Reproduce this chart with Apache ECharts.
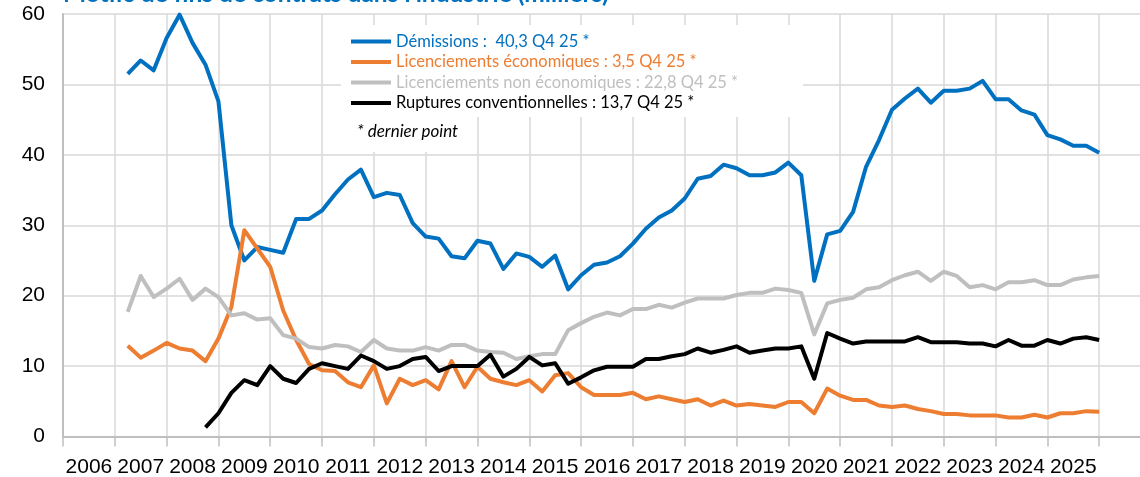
<!DOCTYPE html>
<html>
<head>
<meta charset="utf-8">
<script src="https://cdn.jsdelivr.net/npm/echarts@6/dist/echarts.min.js"></script>
<style>
  html, body { margin: 0; padding: 0; background: #fff; }
  #chart { width: 1140px; height: 477px; }
</style>
</head>
<body>
<div id="chart"></div>
<script>
// Motifs de fins de contrats dans l'industrie (milliers)
// données trimestrielles, de 2007T1 à 2025T4 (un point par trimestre, placé en fin de trimestre)

const annees = ['2006', '2007', '2008', '2009', '2010', '2011', '2012', '2013', '2014', '2015',
    '2016', '2017', '2018', '2019', '2020', '2021', '2022', '2023', '2024', '2025', ''];
const anneeDebut = 2007;

const demissions = [
    51.5, 53.4, 52.0, 56.6,   // 2007
    59.9, 55.9, 52.8, 47.6,   // 2008
    30.0, 25.0, 26.9, 26.5,   // 2009
    26.1, 30.9, 30.9, 32.1,   // 2010
    34.4, 36.5, 37.9, 34.0,   // 2011
    34.6, 34.3, 30.3, 28.4,   // 2012
    28.1, 25.6, 25.3, 27.8,   // 2013
    27.4, 23.8, 26.0, 25.5,   // 2014
    24.1, 25.7, 20.9, 22.9,   // 2015
    24.4, 24.7, 25.6, 27.4,   // 2016
    29.5, 31.1, 32.1, 33.8,   // 2017
    36.6, 37.0, 38.6, 38.1,   // 2018
    37.1, 37.1, 37.5, 38.9,   // 2019
    37.1, 22.1, 28.7, 29.2,   // 2020
    31.9, 38.3, 42.1, 46.4,   // 2021
    48.0, 49.4, 47.4, 49.1,   // 2022
    49.1, 49.4, 50.5, 47.9,   // 2023
    47.9, 46.3, 45.7, 42.8,   // 2024
    42.2, 41.3, 41.3, 40.3,   // 2025
];

const licEco = [
    12.9, 11.2, 12.2, 13.3,
    12.5, 12.2, 10.7, 13.9,
    18.4, 29.3, 26.7, 24.1,
    17.9, 13.7, 10.3, 9.4,
    9.3, 7.7, 7.0, 10.1,
    4.7, 8.2, 7.3, 8.0,
    6.7, 10.7, 7.0, 9.9,
    8.2, 7.7, 7.3, 8.0,
    6.4, 8.7, 9.0, 7.0,
    5.9, 5.9, 5.9, 6.2,
    5.3, 5.7, 5.3, 4.9,
    5.3, 4.4, 5.1, 4.4,
    4.6, 4.4, 4.2, 4.9,
    4.9, 3.3, 6.8, 5.8,
    5.2, 5.2, 4.4, 4.2,
    4.4, 3.9, 3.6, 3.2,
    3.2, 3.0, 3.0, 3.0,
    2.7, 2.7, 3.1, 2.7,
    3.3, 3.3, 3.6, 3.5,
];

const licNonEco = [
    17.7, 22.8, 19.8, 21.0,
    22.4, 19.4, 21.0, 19.8,
    17.2, 17.5, 16.6, 16.8,
    14.4, 13.9, 12.7, 12.5,
    13.0, 12.8, 12.0, 13.7,
    12.5, 12.2, 12.2, 12.7,
    12.2, 13.0, 13.0, 12.2,
    12.0, 11.9, 11.0, 11.4,
    11.7, 11.7, 15.1, 16.1,
    17.0, 17.6, 17.2, 18.1,
    18.1, 18.7, 18.3, 19.0,
    19.6, 19.6, 19.6, 20.1,
    20.4, 20.4, 21.0, 20.8,
    20.4, 14.5, 18.9, 19.4,
    19.7, 20.9, 21.2, 22.2,
    22.9, 23.4, 22.1, 23.4,
    22.8, 21.2, 21.5, 20.9,
    21.9, 21.9, 22.2, 21.5,
    21.5, 22.3, 22.6, 22.8,
];

// ruptures conventionnelles : série démarrant en 2008T3
const ruptures = [
    null, null, null, null,
    null, null, 1.3, 3.3,
    6.2, 8.0, 7.3, 10.0,
    8.2, 7.6, 9.6, 10.4,
    10.0, 9.6, 11.5, 10.7,
    9.6, 10.0, 11.0, 11.3,
    9.3, 10.0, 10.0, 10.0,
    11.6, 8.5, 9.6, 11.3,
    10.1, 10.4, 7.5, 8.4,
    9.4, 9.9, 9.9, 9.9,
    11.0, 11.0, 11.4, 11.7,
    12.5, 11.9, 12.3, 12.8,
    11.9, 12.2, 12.5, 12.5,
    12.8, 8.2, 14.7, 13.9,
    13.2, 13.5, 13.5, 13.5,
    13.5, 14.1, 13.4, 13.4,
    13.4, 13.2, 13.2, 12.8,
    13.7, 12.9, 12.9, 13.7,
    13.2, 13.9, 14.1, 13.7,
];

const seriesDefs = [
    { name: 'Démissions :  40,3 Q4 25 *', data: demissions, color: '#0070C0' },
    { name: 'Licenciements économiques : 3,5 Q4 25 *', data: licEco, color: '#ED7D31' },
    { name: 'Licenciements non économiques : 22,8 Q4 25 *', data: licNonEco, color: '#BFBFBF' },
    { name: 'Ruptures conventionnelles : 13,7 Q4 25 *', data: ruptures, color: '#000000' },
];

// position sur l'axe : fin du trimestre i (0 = 2007T1)
const toPoints = arr => arr.map((v, i) => [anneeDebut + (i + 1) / 4, v]);

const gridCol = '#D9D9D9';
const axisCol = '#BFBFBF';
const font = 'Liberation Sans, sans-serif';

const chart = echarts.init(document.getElementById('chart'));
chart.setOption({
    animation: false,
    backgroundColor: '#fff',
    // la zone de tracé déborde à droite (image recadrée)
    grid: { left: 63, top: 14, width: 1088, height: 422.5, containLabel: false, outerBoundsMode: 'none' },
    xAxis: [
        {
            type: 'category',
            data: annees,
            boundaryGap: true,
            axisLine: { lineStyle: { color: axisCol, width: 2 } },
            axisTick: { show: true, interval: 0, length: 10, lineStyle: { color: axisCol, width: 1.5 } },
            axisLabel: { interval: 0, color: '#000', fontSize: 21, fontFamily: font, margin: 20 },
            splitLine: { show: true, interval: 0, lineStyle: { color: gridCol, width: 1.5 } },
        },
        { type: 'value', min: 2006, max: 2027, show: false },
    ],
    yAxis: {
        type: 'value',
        min: 0,
        max: 60,
        interval: 10,
        axisLine: { show: true, lineStyle: { color: axisCol, width: 2 } },
        axisTick: { show: false },
        axisLabel: { color: '#000', fontSize: 21, fontFamily: font, margin: 18 },
        splitLine: { lineStyle: { color: gridCol, width: 1.5 } },
    },
    legend: {
        orient: 'vertical',
        left: 351,
        top: 33,
        padding: 0,
        itemWidth: 40,
        itemHeight: 4,
        itemGap: 3.5,
        icon: 'rect',
        selectedMode: false,
        textStyle: { fontFamily: 'Lato, sans-serif', fontSize: 16.5, lineHeight: 16 },
        data: seriesDefs.map(s => ({ name: s.name, textStyle: { color: s.color } })),
        z: 10,
    },
    graphic: [
        { type: 'rect', shape: { x: 341, y: 25, width: 462, height: 92 }, style: { fill: '#fff' }, z: 3 },
        { type: 'rect', shape: { x: 341, y: 116, width: 130, height: 36 }, style: { fill: '#fff' }, z: 3 },
        {
            type: 'text', x: 357, y: 132, z: 11,
            style: { text: '* dernier point', fill: '#000', font: 'italic 17px Lato, sans-serif', verticalAlign: 'middle' },
        },
        {
            type: 'text', x: 63, y: 6.5, z: 11,
            style: { text: "Motifs de fins de contrats dans l'industrie (milliers)", fill: '#0070C0',
                font: 'bold 24.5px Lato, sans-serif', verticalAlign: 'bottom' },
        },
    ],
    series: seriesDefs.map(s => ({
        name: s.name,
        type: 'line',
        xAxisIndex: 1,
        data: toPoints(s.data),
        showSymbol: false,
        color: s.color,
        lineStyle: { color: s.color, width: 4, join: 'round' },
        connectNulls: false,
    })),
});
</script>
</body>
</html>
